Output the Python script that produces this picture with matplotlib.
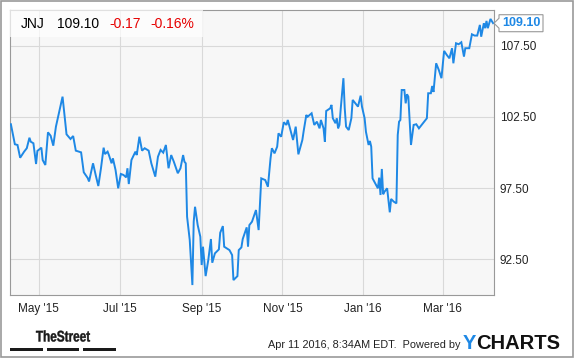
import matplotlib
matplotlib.use("Agg")
import matplotlib.pyplot as plt
import matplotlib.dates as mdates
from matplotlib.patches import Rectangle, Polygon, PathPatch
from matplotlib.transforms import IdentityTransform, Affine2D
from matplotlib.textpath import TextPath
from matplotlib.font_manager import FontProperties
import pandas as pd

plt.rcParams['font.family'] = ['Liberation Sans', 'DejaVu Sans']

ticker = "JNJ"
last_price = 109.10
change = -0.17
change_pct = -0.16
stamp = "Apr 11 2016, 8:34AM EDT."

dates = [
    "2015-04-10", "2015-04-13", "2015-04-15", "2015-04-17", "2015-04-20", "2015-04-22", "2015-04-24",
    "2015-04-25", "2015-04-27", "2015-04-29", "2015-04-30", "2015-05-03", "2015-05-04", "2015-05-06",
    "2015-05-08", "2015-05-10", "2015-05-12", "2015-05-14", "2015-05-19", "2015-05-22", "2015-05-25",
    "2015-05-27", "2015-05-29", "2015-06-02", "2015-06-04", "2015-06-07", "2015-06-08", "2015-06-11",
    "2015-06-13", "2015-06-15", "2015-06-17", "2015-06-19", "2015-06-20", "2015-06-22", "2015-06-23",
    "2015-06-25", "2015-06-26", "2015-06-28", "2015-06-30", "2015-07-02", "2015-07-04", "2015-07-06",
    "2015-07-07", "2015-07-08", "2015-07-10", "2015-07-13", "2015-07-14", "2015-07-16", "2015-07-18",
    "2015-07-20", "2015-07-23", "2015-07-25", "2015-07-28", "2015-07-30", "2015-08-01", "2015-08-03",
    "2015-08-05", "2015-08-07", "2015-08-09", "2015-08-11", "2015-08-14", "2015-08-16", "2015-08-18",
    "2015-08-19", "2015-08-20", "2015-08-21", "2015-08-23", "2015-08-25", "2015-08-26", "2015-08-27",
    "2015-08-29", "2015-08-31", "2015-09-01", "2015-09-02", "2015-09-04", "2015-09-06", "2015-09-08",
    "2015-09-09", "2015-09-11", "2015-09-14", "2015-09-15", "2015-09-17", "2015-09-18", "2015-09-20",
    "2015-09-22", "2015-09-24", "2015-09-25", "2015-09-28", "2015-09-29", "2015-10-01", "2015-10-02",
    "2015-10-05", "2015-10-06", "2015-10-07", "2015-10-09", "2015-10-12", "2015-10-14", "2015-10-16",
    "2015-10-19", "2015-10-21", "2015-10-23", "2015-10-24", "2015-10-26", "2015-10-28", "2015-10-29",
    "2015-10-31", "2015-11-02", "2015-11-04", "2015-11-05", "2015-11-07", "2015-11-09", "2015-11-11",
    "2015-11-13", "2015-11-16", "2015-11-17", "2015-11-19", "2015-11-20", "2015-11-23", "2015-11-25",
    "2015-11-27", "2015-11-29", "2015-11-30", "2015-12-02", "2015-12-03", "2015-12-04", "2015-12-07",
    "2015-12-08", "2015-12-09", "2015-12-11", "2015-12-12", "2015-12-13", "2015-12-14", "2015-12-15",
    "2015-12-17", "2015-12-18", "2015-12-19", "2015-12-21", "2015-12-23", "2015-12-24", "2015-12-27",
    "2015-12-28", "2015-12-30", "2015-12-31", "2016-01-02", "2016-01-03", "2016-01-05", "2016-01-06",
    "2016-01-07", "2016-01-08", "2016-01-10", "2016-01-12", "2016-01-13", "2016-01-14", "2016-01-15",
    "2016-01-16", "2016-01-17", "2016-01-19", "2016-01-21", "2016-01-22", "2016-01-24", "2016-01-26",
    "2016-01-27", "2016-01-28", "2016-01-29", "2016-01-30", "2016-02-01", "2016-02-02", "2016-02-03",
    "2016-02-04", "2016-02-06", "2016-02-08", "2016-02-10", "2016-02-12", "2016-02-14", "2016-02-18",
    "2016-02-19", "2016-02-21", "2016-02-22", "2016-02-23", "2016-02-25", "2016-02-27", "2016-02-29",
    "2016-03-02", "2016-03-04", "2016-03-06", "2016-03-08", "2016-03-09", "2016-03-11", "2016-03-13",
    "2016-03-15", "2016-03-17", "2016-03-18", "2016-03-21", "2016-03-23", "2016-03-25", "2016-03-27",
    "2016-03-29", "2016-03-30", "2016-04-01", "2016-04-02", "2016-04-03", "2016-04-04", "2016-04-06",
    "2016-04-08",
]

prices = [
    101.99, 100.58, 100.53, 99.63, 100.06, 100.30, 101.04,
    100.76, 100.65, 99.19, 100.11, 100.34, 99.47, 99.12,
    101.42, 101.18, 100.48, 101.82, 103.93, 101.28, 100.95,
    101.16, 100.13, 100.01, 98.61, 98.20, 97.96, 99.24,
    98.42, 97.64, 98.89, 100.34, 99.89, 100.06, 99.82,
    99.24, 99.59, 98.77, 97.48, 98.49, 98.42, 98.25,
    98.89, 97.78, 99.47, 100.06, 99.82, 101.11, 100.13,
    100.30, 100.13, 99.24, 98.30, 99.70, 100.18, 99.99,
    100.53, 98.89, 99.82, 99.35, 98.54, 98.89, 99.82,
    99.35, 99.24, 95.48, 93.84, 90.67, 95.13, 96.18,
    94.89, 94.07, 92.08, 93.37, 91.30, 92.43, 93.91,
    92.24, 92.90, 93.18, 94.35, 94.82, 93.37, 93.25,
    93.13, 92.78, 91.02, 91.30, 93.13, 93.32, 93.91,
    94.73, 93.37, 94.89, 95.13, 95.95, 94.54, 98.18,
    98.06, 97.59, 99.59, 100.30, 99.94, 100.41, 101.35,
    101.11, 102.13, 101.94, 102.29, 101.58, 100.88, 101.82,
    99.87, 100.88, 101.51, 102.64, 102.52, 102.76, 101.94,
    102.17, 101.70, 102.29, 101.70, 100.76, 102.92, 103.11,
    103.35, 102.41, 102.06, 102.41, 101.70, 101.94, 103.11,
    105.23, 103.11, 101.82, 101.58, 102.41, 103.70, 103.35,
    103.23, 104.00, 103.23, 102.41, 101.46, 100.53, 100.81,
    100.41, 98.18, 97.83, 97.48, 98.23, 97.01, 98.84,
    97.06, 97.24, 97.48, 95.79, 96.73, 96.54, 96.42,
    101.23, 102.17, 102.29, 104.40, 104.40, 103.46, 104.10,
    103.93, 100.53, 101.94, 101.99, 101.70, 101.94, 102.41,
    104.17, 104.17, 104.68, 104.26, 106.28, 105.81, 105.23,
    107.15, 106.87, 106.63, 107.34, 106.28, 107.69, 107.62,
    107.76, 106.75, 107.34, 107.34, 108.32, 108.23, 108.23,
    108.98, 108.15, 109.10, 108.75, 109.26, 108.75, 109.40,
    109.10,
]

price_ticks = [92.5, 97.5, 102.5, 107.5]
month_ticks = ["2015-05-01", "2015-07-01", "2015-09-01", "2015-11-01", "2016-01-01", "2016-03-01"]

blue = '#1e88e5'
red = '#e60000'
W, H = 575, 358

fig = plt.figure(figsize=(W / 100, H / 100), dpi=100)
fig.patch.set_facecolor('white')

ax = fig.add_axes([10 / W, 63 / H, 484 / W, 285 / H])
ax.set_facecolor('#f7f7f7')
x = pd.to_datetime(dates)
ax.plot(x, prices, color=blue, lw=1.4, solid_joinstyle='miter', zorder=3)

ax.set_xlim(pd.Timestamp('2015-04-09 08:00'), pd.Timestamp('2016-04-08 16:00'))
ax.set_ylim(89.97, 110.03)
ax.yaxis.tick_right()
ax.set_yticks(price_ticks)
ax.set_yticklabels([f"{v:.2f}" for v in price_ticks])
ax.set_xticks(pd.to_datetime(month_ticks))
ax.xaxis.set_major_formatter(mdates.DateFormatter("%b '%y"))
ax.tick_params(length=0, labelsize=8.5, labelcolor='#222222')
ax.tick_params(axis='y', pad=4)
ax.tick_params(axis='x', pad=5.5)
ax.grid(color='#d9d9d9', lw=0.8)
ax.set_axisbelow(True)
for s in ax.spines.values():
    s.set_color('#999999')
    s.set_linewidth(0.8)

# header quote box
fig.patches.append(Rectangle((10 / W, 1 - 37 / H), 193 / W, 27 / H, transform=fig.transFigure,
                             fc='white', alpha=0.7, ec='none', zorder=2))
hy = 1 - 24 / H
hdr = dict(fontsize=10, va='center', zorder=4)
fig.text(21 / W, hy, ticker, color='black', **hdr)
fig.text(56.7 / W, hy, f"{last_price:.2f}", color='black', **hdr)
fig.text(109 / W, hy, f"{change:.2f}", color=red, **hdr)
fig.text(150 / W, hy, f"{change_pct:.2f}%", color=red, **hdr)

# last price tag on the right axis
xr = ax.transAxes.transform((1, 0))[0]
yc = ax.transData.transform((mdates.date2num(x[-1]), prices[-1]))[1]
tag = [(xr, yc), (xr + 5, yc + 5), (xr + 5, yc + 8.5), (xr + 49, yc + 8.5),
       (xr + 49, yc - 8.5), (xr + 5, yc - 8.5), (xr + 5, yc - 5)]
fig.patches.append(Polygon(tag, closed=True, transform=IdentityTransform(),
                           fc='white', ec='#999999', lw=0.8, zorder=5))
fig.text((xr + 27) / W, yc / H, f"{prices[-1]:.2f}", fontsize=9, fontweight='bold',
         color=blue, ha='center', va='center', zorder=6)

# footer: condensed "TheStreet" logo
tp = TextPath((0, 0), "TheStreet", size=15.4,
              prop=FontProperties(family='Liberation Sans', weight='bold'))
ext = tp.get_extents()
sx = 54 / ext.width
logo_tf = Affine2D().translate(-ext.x0, 0).scale(sx, 1).translate(36, H - 341.5)
fig.patches.append(PathPatch(tp, transform=logo_tf, fc='#1a1a1a', ec='#1a1a1a', lw=0.3))
for bx in (10, 46.7, 83.3):
    fig.patches.append(Rectangle((bx / W, 1 - 350.5 / H), 32.5 / W, 3 / H,
                                 transform=fig.transFigure, fc='#1a1a1a', ec='none'))
fig.text(460 / W, 1 - 348 / H, f"{stamp}  Powered by", fontsize=7.8, color='#222222',
         ha='right', va='baseline')
ty = fig.text(463 / W, 1 - 349 / H, "Y", fontsize=14.5, fontweight='bold', color=blue, va='baseline')
r = fig.canvas.get_renderer()
bb = ty.get_window_extent(renderer=r)
fig.text(bb.x1 / W, 1 - 349 / H, "CHARTS", fontsize=14.5, fontweight='bold', color='#111111',
         va='baseline')

# outer border
fig.patches.append(Rectangle((1 / W, 1 / H), (W - 3) / W, (H - 2) / H, transform=fig.transFigure,
                             fill=False, ec='#999999', lw=1.2))

fig.savefig("out.png", dpi=100)
